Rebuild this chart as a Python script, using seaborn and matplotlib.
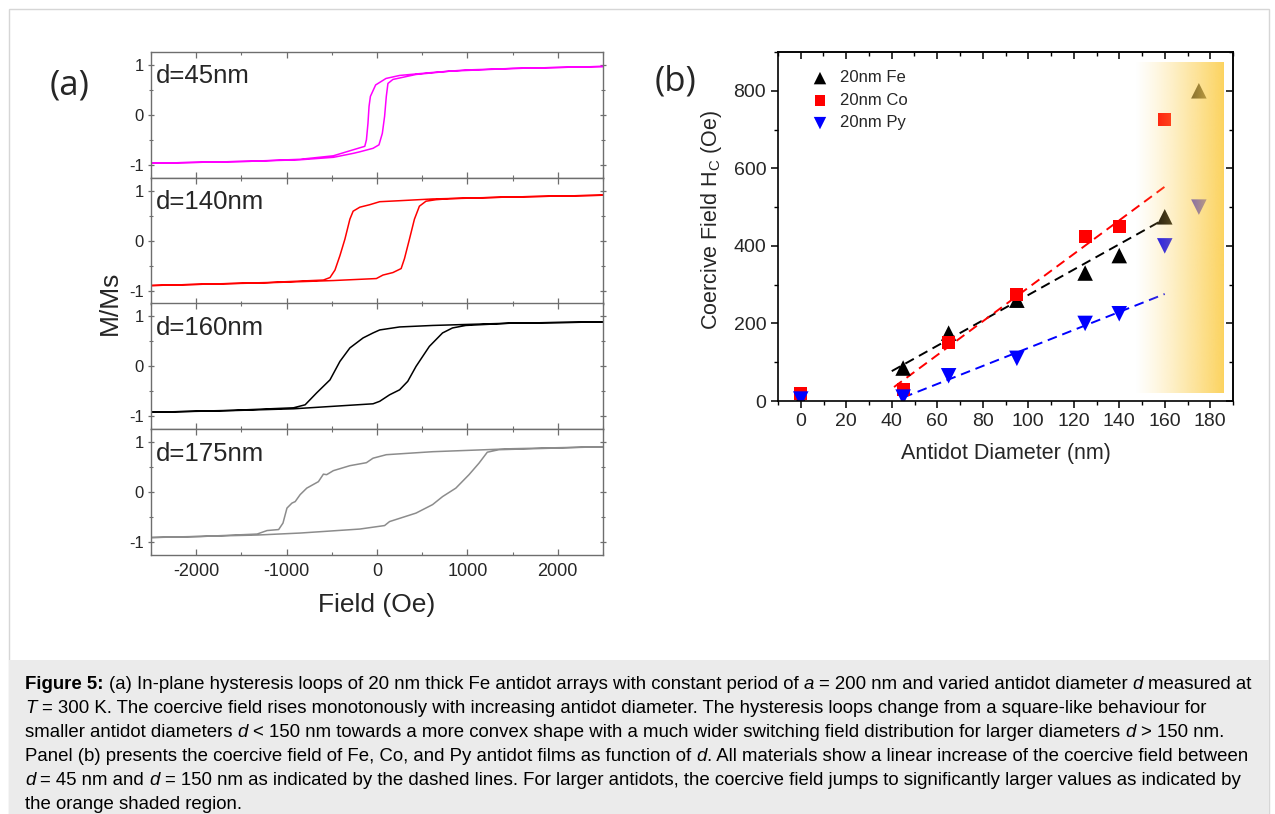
import numpy as np
import pandas as pd
import matplotlib
matplotlib.use("Agg")
import matplotlib.pyplot as plt
import seaborn as sns
from matplotlib.colors import to_rgb
from matplotlib.font_manager import FontProperties
from matplotlib.patches import Rectangle
from matplotlib.ticker import MultipleLocator
from matplotlib.transforms import IdentityTransform

# ---- panel (a): hysteresis loops, descending (upper) and ascending (lower) branch
loop_labels = ["d=45nm", "d=140nm", "d=160nm", "d=175nm"]
loop_colors = ["#ff00ff", "#ff0000", "#000000", "#8c8c8c"]

d45_up_h = [2500, 1500, 980, 615, 250, 100, -15, -73, -88, -100, -117, -135, -264, -483, -850, -1400, -1950, -2500]
d45_up_m = [0.97, 0.93, 0.90, 0.85, 0.79, 0.73, 0.60, 0.37, 0.17, -0.17, -0.50, -0.63, -0.70, -0.82, -0.89, -0.93, -0.95, -0.97]
d45_lo_h = [-2500, -1400, -850, -480, -260, -190, -44, 22, 59, 84, 103, 121, 176, 432, 800, 1500, 2500]
d45_lo_m = [-0.97, -0.93, -0.90, -0.85, -0.77, -0.74, -0.67, -0.60, -0.37, -0.03, 0.37, 0.63, 0.71, 0.81, 0.875, 0.93, 0.97]

d140_up_h = [2500, 1495, 615, 250, 30, -80, -190, -264, -300, -355, -410, -465, -520, -593, -1216, -1950, -2500]
d140_up_m = [0.91, 0.875, 0.835, 0.80, 0.78, 0.72, 0.67, 0.59, 0.43, 0.03, -0.30, -0.59, -0.74, -0.79, -0.84, -0.875, -0.90]
d140_lo_h = [-2500, -1950, -1216, -483, -7, 66, 176, 267, 304, 359, 414, 469, 542, 652, 800, 1495, 2500]
d140_lo_m = [-0.90, -0.875, -0.845, -0.80, -0.76, -0.69, -0.64, -0.56, -0.36, 0.03, 0.43, 0.69, 0.79, 0.82, 0.84, 0.875, 0.91]

d160_up_h = [2500, 1495, 615, 250, 30, -44, -154, -300, -410, -520, -667, -795, -923, -1582, -2500]
d160_up_m = [0.89, 0.867, 0.82, 0.79, 0.73, 0.67, 0.57, 0.37, 0.10, -0.27, -0.53, -0.77, -0.83, -0.88, -0.92]
d160_lo_h = [-2500, -1582, -923, -483, -44, 30, 139, 250, 340, 432, 579, 725, 835, 982, 1495, 2500]
d160_lo_m = [-0.92, -0.885, -0.85, -0.80, -0.75, -0.70, -0.57, -0.47, -0.30, 0.0, 0.40, 0.67, 0.77, 0.82, 0.867, 0.89]

d175_up_h = [2500, 1495, 615, 103, -44, -117, -300, -483, -557, -593, -648, -777, -850, -905, -941, -996, -1040, -1088, -1216, -1326, -1950, -2500]
d175_up_m = [0.91, 0.87, 0.81, 0.75, 0.68, 0.59, 0.53, 0.43, 0.35, 0.36, 0.21, 0.08, -0.05, -0.19, -0.22, -0.32, -0.62, -0.75, -0.77, -0.84, -0.89, -0.91]
d175_lo_h = [-2500, -1326, -850, -190, 84, 139, 432, 615, 725, 872, 1018, 1128, 1220, 1348, 2500]
d175_lo_m = [-0.91, -0.86, -0.82, -0.74, -0.67, -0.59, -0.42, -0.25, -0.09, 0.08, 0.35, 0.58, 0.80, 0.85, 0.91]

# ---- panel (b): coercive field vs antidot diameter
diam = [0, 45, 65, 95, 125, 140, 160, 175]
hc_fe = [3, 85, 175, 260, 330, 375, 475, 800]
diam_co = [0, 45, 65, 95, 125, 140, 160]
hc_co = [20, 30, 150, 275, 425, 450, 725]
hc_py = [5, 10, 65, 110, 200, 225, 400, 500]

# dashed linear trends (end points)
fe_fit_x, fe_fit_y = [40, 161], [77, 473]
co_fit_x, co_fit_y = [41, 161], [36, 557]
py_fit_x, py_fit_y = [45, 160], [9, 276]

shade_x = [147, 186]
shade_y = [20, 873]

caption_lines = [
    [("Figure 5:", "b"), (" (a) In-plane hysteresis loops of 20 nm thick Fe antidot arrays with constant period of ", "n"),
     ("a", "i"), (" = 200 nm and varied antidot diameter ", "n"), ("d", "i"), (" measured at", "n")],
    [("T", "i"), (" = 300 K. The coercive field rises monotonously with increasing antidot diameter. "
                  "The hysteresis loops change from a square-like behaviour for", "n")],
    [("smaller antidot diameters ", "n"), ("d", "i"),
     (" < 150 nm towards a more convex shape with a much wider switching field distribution for larger diameters ", "n"),
     ("d", "i"), (" > 150 nm.", "n")],
    [("Panel (b) presents the coercive field of Fe, Co, and Py antidot films as function of ", "n"), ("d", "i"),
     (". All materials show a linear increase of the coercive field between", "n")],
    [("d", "i"), (" = 45 nm and ", "n"), ("d", "i"),
     (" = 150 nm as indicated by the dashed lines. For larger antidots, the coercive field jumps to significantly "
      "larger values as indicated by", "n")],
    [("the orange shaded region.", "n")],
]

sns.set_theme(style="ticks")
plt.rcParams["font.family"] = ["Liberation Sans", "DejaVu Sans"]
plt.rcParams["mathtext.fontset"] = "custom"
plt.rcParams["mathtext.rm"] = "Liberation Sans"
plt.rcParams["mathtext.it"] = "Liberation Sans:italic"

W, H = 1275, 814
fig = plt.figure(figsize=(W / 100, H / 100), dpi=100)
fig.patch.set_facecolor("white")

# outer frame and grey caption box
fig.patches.append(Rectangle((9 / W, 0), 1260 / W, (H - 9) / H, transform=fig.transFigure,
                             fill=False, edgecolor="#d6d6d6", lw=1.0))
fig.patches.append(Rectangle((9 / W, 0), 1260 / W, (H - 660) / H, transform=fig.transFigure,
                             facecolor="#ebebeb", edgecolor="none"))

# ---------------- panel (a)
loops = [
    (d45_up_h + d45_lo_h, d45_up_m + d45_lo_m),
    (d140_up_h + d140_lo_h, d140_up_m + d140_lo_m),
    (d160_up_h + d160_lo_h, d160_up_m + d160_lo_m),
    (d175_up_h + d175_lo_h, d175_up_m + d175_lo_m),
]
a_left, a_width = 151 / W, 452 / W
a_bottom, a_h = 1 - 555 / H, (555 - 52) / 4 / H
spine_grey = "#6e6e6e"

for i, ((hh, mm), lab, col) in enumerate(zip(loops, loop_labels, loop_colors)):
    ax = fig.add_axes([a_left, a_bottom + (3 - i) * a_h, a_width, a_h])
    df = pd.DataFrame({"field": hh, "m": mm})
    sns.lineplot(data=df, x="field", y="m", sort=False, estimator=None, color=col, lw=1.1, ax=ax)
    ax.set_xlim(-2500, 2500)
    ax.set_ylim(-1.26, 1.26)
    ax.set_xlabel("")
    ax.set_ylabel("")
    ax.xaxis.set_major_locator(MultipleLocator(1000))
    ax.xaxis.set_minor_locator(MultipleLocator(500))
    ax.yaxis.set_major_locator(MultipleLocator(1))
    ax.yaxis.set_minor_locator(MultipleLocator(0.5))
    for s in ax.spines.values():
        s.set_color(spine_grey)
        s.set_linewidth(1.0)
    ax.tick_params(which="both", direction="in", top=True, right=True, color=spine_grey,
                   labelsize=12, pad=3)
    ax.tick_params(axis="y", which="both", direction="inout")
    ax.tick_params(which="major", length=4, width=0.9)
    ax.tick_params(which="minor", length=2.5, width=0.8)
    ax.set_yticks([-1, 0, 1])
    ax.set_yticklabels(["-1", "0", "1"])
    if i < 3:
        ax.tick_params(labelbottom=False)
    else:
        ax.set_xticks([-2000, -1000, 0, 1000, 2000])
        ax.set_xticklabels(["-2000", "-1000", "0", "1000", "2000"])
        ax.tick_params(axis="x", labelsize=13, pad=6)
    ax.text(0.01, 0.75, lab, transform=ax.transAxes, fontsize=18.5, ha="left", va="baseline")

fig.text(110 / W, 1 - 303 / H, "M/Ms", rotation=90, fontsize=19, ha="center", va="center")
fig.text(377 / W, 1 - 605 / H, "Field (Oe)", fontsize=19, ha="center", va="center")
fig.text(70 / W, 1 - 85 / H, "(a)", fontsize=25, family=["Open Sans", "DejaVu Sans"], ha="center", va="center")

# ---------------- panel (b)
axb = fig.add_axes([778 / W, 1 - 401 / H, 455 / W, 349 / H])
dash = (0, (5, 3))
sns.lineplot(x=fe_fit_x, y=fe_fit_y, color="black", lw=1.4, linestyle=dash, ax=axb, zorder=1)
sns.lineplot(x=co_fit_x, y=co_fit_y, color="#ff0000", lw=1.4, linestyle=dash, ax=axb, zorder=1)
sns.lineplot(x=py_fit_x, y=py_fit_y, color="#0000ff", lw=1.4, linestyle=dash, ax=axb, zorder=1)

sns.scatterplot(x=diam, y=hc_fe, marker="^", s=125, color="black", edgecolor="none",
                label="20nm Fe", ax=axb, zorder=2)
sns.scatterplot(x=diam_co, y=hc_co, marker="s", s=90, color="#ff0000", edgecolor="none",
                label="20nm Co", ax=axb, zorder=2)
sns.scatterplot(x=diam, y=hc_py, marker="v", s=125, color="#0000ff", edgecolor="none",
                label="20nm Py", ax=axb, zorder=2)

t = np.linspace(0, 1, 256)
grad = np.zeros((1, 256, 4))
grad[..., :3] = to_rgb("#fcd157")
grad[..., 3] = 0.95 * t ** 1.2
axb.imshow(grad, extent=[shade_x[0], shade_x[1], shade_y[0], shade_y[1]], aspect="auto",
           interpolation="bilinear", zorder=3)

axb.set_xlim(-10, 190)
axb.set_ylim(0, 900)
axb.set_xlabel("")
axb.set_ylabel("")
axb.xaxis.set_major_locator(MultipleLocator(20))
axb.xaxis.set_minor_locator(MultipleLocator(10))
axb.yaxis.set_major_locator(MultipleLocator(200))
axb.yaxis.set_minor_locator(MultipleLocator(100))
for s in axb.spines.values():
    s.set_color("black")
    s.set_linewidth(1.2)
axb.tick_params(which="both", direction="out", labelsize=14, color="black")
axb.tick_params(which="major", length=5, width=1.1)
axb.tick_params(which="minor", length=3, width=1.0)
for side in ["top", "right"]:
    sec = axb.secondary_xaxis("top") if side == "top" else axb.secondary_yaxis("right")
    axis = sec.xaxis if side == "top" else sec.yaxis
    axis.set_major_locator(MultipleLocator(20 if side == "top" else 200))
    axis.set_minor_locator(MultipleLocator(10 if side == "top" else 100))
    sec.tick_params(which="both", direction="in", labeltop=False, labelright=False, color="black")
    sec.tick_params(which="major", length=5, width=1.1)
    sec.tick_params(which="minor", length=3, width=1.0)
    for s in sec.spines.values():
        s.set_linewidth(1.2)

leg = axb.legend(loc="upper left", bbox_to_anchor=(0.03, 0.99), frameon=False, fontsize=12,
                 markerscale=0.8, handletextpad=0.4, labelspacing=0.45, handlelength=1.6)

fig.text(1006 / W, 1 - 453 / H, "Antidot Diameter (nm)", fontsize=15.5, ha="center", va="center")
fig.text(712 / W, 1 - 220 / H, r"Coercive Field H$_\mathregular{C}$ (Oe)", fontsize=15.5,
         rotation=90, ha="center", va="center")
fig.text(675 / W, 1 - 82 / H, "(b)", fontsize=25, family=["Open Sans", "DejaVu Sans"], ha="center", va="center")

# ---------------- caption with mixed bold / italic runs
renderer = fig.canvas.get_renderer()


def props(style, size):
    return FontProperties(family="Liberation Sans", size=size,
                          weight="bold" if style == "b" else "normal",
                          style="italic" if style == "i" else "normal")


def advance(txt, fp):
    w1 = renderer.get_text_width_height_descent("|" + txt + "|", fp, False)[0]
    w0 = renderer.get_text_width_height_descent("||", fp, False)[0]
    return w1 - w0


def line_width(runs, size):
    return sum(advance(txt, props(st, size)) for txt, st in runs)


size = 12.0
size = size * 1230 / line_width(caption_lines[0], size)

baselines = [689, 713, 737, 761, 785, 809]
for runs, yb in zip(caption_lines, baselines):
    x = 25.0
    for txt, st in runs:
        fp = props(st, size)
        stripped = txt.lstrip(" ")
        x += advance(txt[: len(txt) - len(stripped)], fp) if len(stripped) < len(txt) else 0
        fig.text(x, H - yb, stripped, transform=IdentityTransform(), fontproperties=fp,
                 ha="left", va="baseline", color="black")
        x += advance(stripped, fp)

fig.savefig("out.png", dpi=100, facecolor="white")
